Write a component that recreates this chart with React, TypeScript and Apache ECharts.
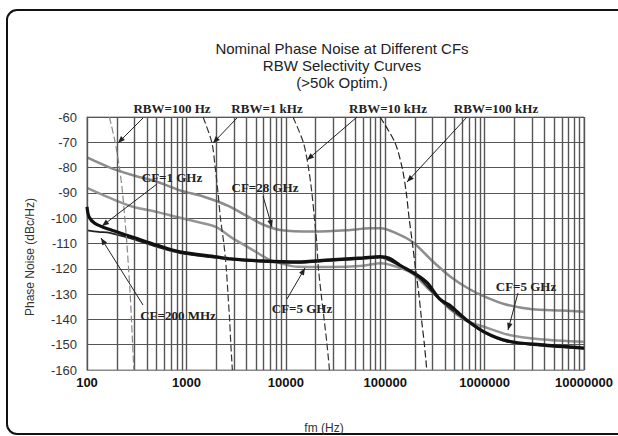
import React, { useEffect, useRef } from 'react';
import * as echarts from 'echarts';

// ---- data (frequency offset Hz, phase noise dBc/Hz) ----
const cf28GHz: [number, number][] = [
  [100, -76], [170, -80], [290, -83], [500, -85.5], [860, -89], [1500, -91.5],
  [2600, -95], [4000, -99], [5900, -102.5], [8800, -104.7], [19000, -105.3],
  [41000, -104.8], [70000, -104], [90000, -104], [130000, -106], [190000, -109.5],
  [300000, -117], [450000, -123], [700000, -128], [1000000, -131], [1600000, -134],
  [3000000, -136], [6000000, -136.5], [10000000, -137],
];
const cf5GHz: [number, number][] = [
  [100, -88], [170, -92], [290, -95.5], [500, -97.5], [800, -99.5], [1300, -101.5],
  [2000, -103.5], [2800, -107.5], [4400, -112], [6900, -116.5], [8800, -117.8],
  [13000, -119.2], [28000, -119.3], [60000, -118.8], [90000, -117.8], [130000, -119.2],
  [190000, -122], [265000, -127.5], [355000, -132], [450000, -136], [650000, -140.5],
  [1000000, -143], [1700000, -146], [3600000, -147.8], [10000000, -148.8],
];
const cf1GHz: [number, number][] = [
  [100, -95.5], [105, -99.5], [120, -102], [170, -104.5], [290, -107.5], [500, -110.6],
  [860, -113.3], [2000, -115.3], [2800, -116.1], [5900, -116.9], [12900, -117.3],
  [27700, -116.5], [59600, -115.7], [88700, -115.2], [110000, -115.8], [140000, -118.5],
  [210000, -122.5], [265000, -125.6], [355000, -132], [450000, -134.5], [650000, -140],
  [1000000, -145], [1700000, -148.5], [3600000, -150], [10000000, -151.3],
];
const cf200MHz: [number, number][] = [
  [100, -104.8], [130, -105.4], [170, -105.8], [290, -108.3], [500, -111.3], [860, -113.8],
  [2000, -115.7], [5900, -117.3], [12900, -117.7], [27700, -116.9], [59600, -116.1],
  [88700, -115.6], [140000, -118.9], [210000, -122.9], [355000, -132.4], [650000, -140.4],
  [1000000, -145.4], [1700000, -148.9], [3600000, -150.4], [10000000, -151.7],
];
const rbw100Hz: [number, number][] = [
  [168, -60], [192, -70], [212, -80], [228, -90], [240, -100], [252, -110],
  [262, -120], [272, -130], [280, -140], [288, -150], [296, -160],
];
const rbw1kHz: [number, number][] = [
  [1470, -60], [1800, -70], [1950, -80], [2080, -90], [2200, -100], [2380, -110],
  [2520, -120], [2620, -130], [2720, -140], [2800, -150], [2900, -160],
];
const rbw10kHz: [number, number][] = [
  [11800, -60], [15000, -70], [16900, -80], [18300, -90], [19400, -100], [20500, -110],
  [21300, -120], [22700, -130], [24300, -140], [26000, -150], [27500, -160],
];
const rbw100kHz: [number, number][] = [
  [88700, -60], [125000, -70], [148000, -80], [163000, -90], [174000, -100], [188000, -110],
  [202000, -120], [218000, -130], [232000, -140], [248000, -150], [262000, -160],
];

const xTickLabels = ['100', '1000', '10000', '100000', '1000000', '10000000'];
const titleLines = ['Nominal Phase Noise at Different CFs', 'RBW Selectivity Curves', '(>50k Optim.)'];

// annotation labels (pixel positions) and arrows
const annoLabels = [
  { text: 'RBW=100 Hz', x: 172, y: 108 },
  { text: 'RBW=1 kHz', x: 267, y: 108 },
  { text: 'RBW=10 kHz', x: 388, y: 108 },
  { text: 'RBW=100 kHz', x: 496, y: 108 },
  { text: 'CF=1 GHz', x: 172, y: 177 },
  { text: 'CF=28 GHz', x: 265, y: 187 },
  { text: 'CF=200 MHz', x: 178, y: 315 },
  { text: 'CF=5 GHz', x: 302, y: 308 },
  { text: 'CF=5 GHz', x: 526, y: 286 },
];
const annoArrows: { from: [number, number]; to: [number, number] }[] = [
  { from: [143, 118], to: [118, 143] },
  { from: [237, 118], to: [213, 143] },
  { from: [357, 117], to: [307, 160] },
  { from: [467, 117], to: [407, 182] },
  { from: [157, 184], to: [102, 226] },
  { from: [263, 196], to: [272, 227] },
  { from: [143, 305], to: [101, 238] },
  { from: [287, 299], to: [305, 268] },
  { from: [518, 293], to: [508, 330] },
];

function arrowHead(from: [number, number], to: [number, number], len = 7, w = 2.8) {
  const dx = to[0] - from[0];
  const dy = to[1] - from[1];
  const L = Math.hypot(dx, dy);
  const ux = dx / L;
  const uy = dy / L;
  const bx = to[0] - ux * len;
  const by = to[1] - uy * len;
  return [
    [to[0], to[1]],
    [bx - uy * w, by + ux * w],
    [bx + uy * w, by - ux * w],
  ];
}

export default function App() {
  const ref = useRef<HTMLDivElement>(null);

  useEffect(() => {
    if (!ref.current) return;
    const chart = echarts.init(ref.current, undefined, { renderer: 'svg' });

    const gridFreqs: number[] = [];
    for (let d = 100; d < 1e7; d *= 10) {
      for (let m = 1; m <= 9; m++) gridFreqs.push(d * m);
    }
    gridFreqs.push(1e7);

    const sans = 'Liberation Sans, Arial, sans-serif';
    const serif = 'Liberation Serif, Times New Roman, serif';

    const graphic: any[] = [
      {
        type: 'rect',
        shape: { x: 7, y: 10, width: 700, height: 424, r: 10 },
        style: { fill: 'transparent', stroke: '#111', lineWidth: 2 },
        silent: true,
      },
      {
        type: 'text',
        x: 342,
        y: 40,
        style: {
          text: titleLines.join('\n'),
          font: `15px ${sans}`,
          fill: '#222',
          textAlign: 'center',
          textVerticalAlign: 'top',
          lineHeight: 17,
        },
      },
      {
        type: 'text',
        x: 30,
        y: 257,
        rotation: Math.PI / 2,
        style: {
          text: 'Phase Noise (dBc/Hz)',
          font: `12px ${sans}`,
          fill: '#333',
          textAlign: 'center',
          textVerticalAlign: 'middle',
        },
      },
      {
        type: 'text',
        x: 324,
        y: 428,
        style: {
          text: 'fm (Hz)',
          font: `12px ${sans}`,
          fill: '#333',
          textAlign: 'center',
          textVerticalAlign: 'middle',
        },
      },
    ];
    annoLabels.forEach((l) => {
      graphic.push({
        type: 'text',
        x: l.x,
        y: l.y,
        z: 10,
        style: {
          text: l.text,
          font: `bold 13px ${serif}`,
          fill: '#222',
          textAlign: 'center',
          textVerticalAlign: 'middle',
        },
      });
    });
    annoArrows.forEach((a) => {
      graphic.push({
        type: 'line',
        z: 10,
        shape: { x1: a.from[0], y1: a.from[1], x2: a.to[0], y2: a.to[1] },
        style: { stroke: '#222', lineWidth: 1 },
      });
      graphic.push({
        type: 'polygon',
        z: 10,
        shape: { points: arrowHead(a.from, a.to) },
        style: { fill: '#222' },
      });
    });

    const curve = (name: string, data: [number, number][], color: string, width: number, z: number) => ({
      name,
      type: 'line',
      data,
      showSymbol: false,
      symbol: 'none',
      smooth: 0.3,
      z,
      lineStyle: { color, width },
      silent: true,
    });
    const rbw = (name: string, data: [number, number][], color: string) => ({
      name,
      type: 'line',
      data,
      showSymbol: false,
      symbol: 'none',
      smooth: 0.3,
      z: 6,
      lineStyle: { color, width: 1.2, type: [7, 3] },
      silent: true,
    });

    chart.setOption({
      animation: false,
      backgroundColor: '#ffffff',
      grid: {
        left: 87,
        right: 34,
        top: 117,
        bottom: 66,
        show: true,
        borderColor: '#888',
        borderWidth: 1,
      },
      xAxis: {
        type: 'log',
        logBase: 10,
        min: 100,
        max: 1e7,
        axisLine: { show: true, lineStyle: { color: '#888' } },
        axisTick: { show: false },
        splitLine: { show: false },
        axisLabel: {
          formatter: (v: number) => xTickLabels[Math.round(Math.log10(v)) - 2] ?? String(v),
          fontFamily: sans,
          fontWeight: 'bold',
          fontSize: 13,
          color: '#111',
          margin: 6,
          showMinLabel: true,
          showMaxLabel: true,
        },
      },
      yAxis: {
        type: 'value',
        min: -160,
        max: -60,
        interval: 10,
        axisLine: { show: true, lineStyle: { color: '#888' } },
        axisTick: { show: false },
        splitLine: { show: true, lineStyle: { color: '#555', width: 1.2 } },
        axisLabel: { fontFamily: sans, fontSize: 13, color: '#333', margin: 10 },
      },
      series: [
        {
          name: 'grid',
          type: 'line',
          data: [[100, -160]],
          symbol: 'none',
          showSymbol: false,
          silent: true,
          z: 1,
          lineStyle: { opacity: 0 },
          markLine: {
            silent: true,
            symbol: ['none', 'none'],
            label: { show: false },
            lineStyle: { color: '#555', width: 1.4, type: 'solid' },
            data: gridFreqs.map((f) => ({ xAxis: f })),
          },
        },
        curve('CF=28 GHz', cf28GHz, '#8c8c8c', 2.5, 3),
        curve('CF=5 GHz', cf5GHz, '#959595', 2.5, 3),
        curve('CF=200 MHz', cf200MHz, '#222', 1.6, 4),
        curve('CF=1 GHz', cf1GHz, '#111', 3.2, 5),
        rbw('RBW=100 Hz', rbw100Hz, '#888'),
        rbw('RBW=1 kHz', rbw1kHz, '#333'),
        rbw('RBW=10 kHz', rbw10kHz, '#333'),
        rbw('RBW=100 kHz', rbw100kHz, '#222'),
      ],
      graphic,
    });

    return () => chart.dispose();
  }, []);

  return (
    <div
      ref={ref}
      style={{ position: 'fixed', left: 0, top: 0, width: 618, height: 436, background: '#fff' }}
    />
  );
}
